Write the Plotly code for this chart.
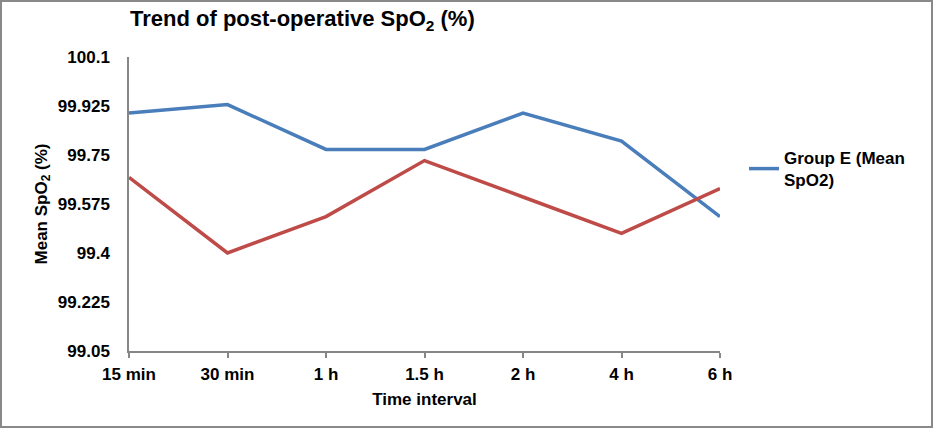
import plotly.graph_objects as go

categories = ["15 min", "30 min", "1 h", "1.5 h", "2 h", "4 h", "6 h"]
group_e = [99.90, 99.93, 99.77, 99.77, 99.90, 99.80, 99.53]
group_other = [99.67, 99.40, 99.53, 99.73, 99.60, 99.47, 99.63]
y_ticks = [99.05, 99.225, 99.4, 99.575, 99.75, 99.925, 100.1]
y_tick_labels = ["99.05", "99.225", "99.4", "99.575", "99.75", "99.925", "100.1"]

W, H = 933, 428
ML, MR, MT, MB = 129, 213, 57, 77
PW, PH = W - ML - MR, H - MT - MB

font_family = "Liberation Sans, Arial, sans-serif"
FS = 17

fig = go.Figure()
fig.add_trace(go.Scatter(
    x=list(range(len(categories))), y=group_e, mode="lines",
    name="Group E (Mean<br>SpO2)", line=dict(color="#4A7EBB", width=3.5)))
fig.add_trace(go.Scatter(
    x=list(range(len(categories))), y=group_other, mode="lines",
    name="Group (Mean SpO2)", showlegend=False, line=dict(color="#BE4B48", width=3.5)))

def px_x(p):
    return (p - ML) / PW

def px_y(p):
    return (H - MB - p) / PH

bold = dict(family=font_family, size=FS, color="black", weight="bold")

fig.update_layout(
    width=W, height=H,
    margin=dict(l=ML, r=MR, t=MT, b=MB),
    paper_bgcolor="white", plot_bgcolor="white",
    font=dict(family=font_family, size=FS, color="black"),
    showlegend=True,
    legend=dict(x=px_x(744), y=px_y(140), xanchor="left", yanchor="top",
                font=bold, bgcolor="rgba(0,0,0,0)", tracegroupgap=0),
    xaxis=dict(
        range=[0, len(categories) - 1],
        tickmode="array", tickvals=list(range(len(categories))), ticktext=categories,
        showgrid=False, zeroline=False,
        showline=True, linecolor="#868686", linewidth=1.5,
        ticks="outside", ticklen=5, tickcolor="#868686", tickwidth=1.5,
        tickfont=bold, ticklabelstandoff=2,
        title=dict(text="Time interval", standoff=10, font=bold),
    ),
    yaxis=dict(
        range=[99.05, 100.1],
        tickmode="array", tickvals=y_ticks, ticktext=y_tick_labels,
        showgrid=False, zeroline=False,
        showline=True, linecolor="#868686", linewidth=1.5,
        ticks="", ticklen=0, ticklabelstandoff=14,
        tickfont=bold,
        title=dict(text="Mean SpO<sub>2</sub> (%)", standoff=6, font=bold),
    ),
    annotations=[dict(
        text="<b>Trend of post-operative SpO<sub>2</sub> (%)</b>",
        xref="paper", yref="paper", x=px_x(128), y=px_y(4),
        xanchor="left", yanchor="top", showarrow=False,
        font=dict(family=font_family, size=22, color="black"))],
    shapes=[dict(
        type="rect", xref="paper", yref="paper",
        x0=px_x(1), x1=px_x(W - 1), y0=px_y(H - 1), y1=px_y(1),
        line=dict(color="#898989", width=2), fillcolor="rgba(0,0,0,0)", layer="below")],
)

fig.write_html("out.html", config={"displayModeBar": False},
               post_script="document.body.style.margin='0px';document.body.style.overflow='hidden';")
